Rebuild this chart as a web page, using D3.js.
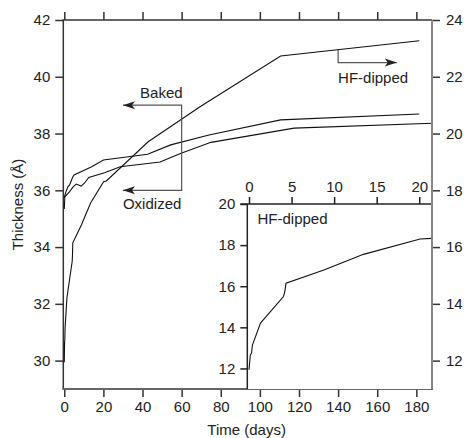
<!DOCTYPE html>
<html>
<head>
<meta charset="utf-8">
<script src="https://cdn.jsdelivr.net/npm/d3@7"></script>
<style>
	body { margin: 0; background: #fff; }
	svg { display: block; font-family: "Liberation Sans", Arial, sans-serif; }
	.tick text { font-size: 15px; fill: #222; }
	.lbl { font-size: 15px; fill: #222; }
</style>
</head>
<body>
<script>
	// Data (time in days, thickness in Å)
	let bakedDays = [0, 0.6, 1.9, 2.7, 4.4, 5, 14, 20, 42.6, 54.4, 74, 110.6, 181.5];
	let bakedValues = [35.73, 35.9, 36.13, 36.19, 36.48, 36.54, 36.83, 37.07, 37.27, 37.6, 37.95, 38.48, 38.69];

	let oxidizedDays = [0, 0.3, 2.7, 4.4, 6.1, 8.6, 10.3, 12.5, 20.6, 28.6, 49, 59.4, 75, 117.5, 188];
	let oxidizedValues = [35.34, 35.77, 35.95, 36.11, 36.22, 36.15, 36.25, 36.45, 36.62, 36.83, 37.0, 37.3, 37.69, 38.19, 38.36];

	// HF-dipped is read on the right axis (and the inset)
	let hfDays = [0, 0.15, 0.3, 0.4, 1.35, 4.05, 4.2, 4.35, 8.8, 13.45, 20.1, 21.5, 42.9, 69.6, 110.6, 181.5];
	let hfValues = [11.94, 12.65, 12.75, 13.14, 14.21, 15.5, 15.72, 16.15, 16.79, 17.55, 18.3, 18.33, 19.71, 20.95, 22.73, 23.27];

	let xTicks = [0, 20, 40, 60, 80, 100, 120, 140, 160, 180];
	let leftTicks = [30, 32, 34, 36, 38, 40, 42];
	let rightTicks = [12, 14, 16, 18, 20, 22, 24];
	let insetXTicks = [0, 5, 10, 15, 20];
	let insetYTicks = [12, 14, 16, 18, 20];

	let width = 466, height = 438;
	let L = 63.3, R = 432, T = 20, B = 389;
	let iL = 247.3, iT = 204;

	let svg = d3.select('body').append('svg')
		.attr('width', width)
		.attr('height', height);

	// Scales
	let x = d3.scaleLinear().domain([-0.5, 188]).range([L, R]);
	let yL = d3.scaleLinear().domain([29, 42]).range([B, T]);
	let yR = d3.scaleLinear().domain([11, 24]).range([B, T]);
	let xI = d3.scaleLinear().domain([-0.2, 21.5]).range([iL, R]);
	let yI = d3.scaleLinear().domain([11, 20]).range([B, iT]);

	function pairs(days, vals){
		return days.map((d, i) => [d, vals[i]]);
	}
	let lineL = d3.line().x(d => x(d[0])).y(d => yL(d[1]));
	let lineR = d3.line().x(d => x(d[0])).y(d => yR(d[1]));
	let lineI = d3.line().x(d => xI(d[0])).y(d => yI(d[1]));

	function styleAxis(g, color, w){
		g.select('.domain').remove();
		g.selectAll('.tick line').attr('stroke', color).attr('stroke-width', w);
	}

	// Main axes
	svg.append('g')
		.attr('transform', 'translate(0,' + B + ')')
		.call(d3.axisBottom(x).tickValues(xTicks).tickSize(8).tickPadding(4))
		.call(g => styleAxis(g, '#333', 1.5));
	svg.append('g')
		.attr('transform', 'translate(0,' + T + ')')
		.call(d3.axisTop(x).tickValues(xTicks).tickSize(8).tickFormat(''))
		.call(g => styleAxis(g, '#333', 1.5));
	svg.append('g')
		.attr('transform', 'translate(' + L + ',0)')
		.call(d3.axisLeft(yL).tickValues(leftTicks).tickSize(8).tickPadding(5))
		.call(g => styleAxis(g, '#333', 1.5));
	svg.append('g')
		.attr('transform', 'translate(' + R + ',0)')
		.call(d3.axisRight(yR).tickValues(rightTicks).tickSize(8).tickPadding(6))
		.call(g => styleAxis(g, '#333', 1.5));

	// Frame lines
	svg.append('line').attr('x1', L).attr('x2', L).attr('y1', T).attr('y2', B)
		.attr('stroke', '#333').attr('stroke-width', 1.5);
	svg.append('line').attr('x1', L - 1).attr('x2', R).attr('y1', T).attr('y2', T)
		.attr('stroke', '#333').attr('stroke-width', 1.5);
	svg.append('line').attr('x1', L - 1).attr('x2', R + 1).attr('y1', B).attr('y2', B)
		.attr('stroke', '#666').attr('stroke-width', 2);
	svg.append('line').attr('x1', R).attr('x2', R).attr('y1', T).attr('y2', B)
		.attr('stroke', '#888').attr('stroke-width', 2);

	// Main curves
	let curves = svg.append('g').attr('fill', 'none').attr('stroke', '#111').attr('stroke-width', 1.1);
	curves.append('path').attr('d', lineL(pairs(bakedDays, bakedValues)));
	curves.append('path').attr('d', lineL(pairs(oxidizedDays, oxidizedValues)));
	curves.append('path').attr('d', lineR(pairs(hfDays, hfValues)));

	// Annotation arrows
	function arrowHead(g, tipX, tipY, dir){
		g.append('path')
			.attr('d', 'M' + tipX + ',' + tipY +
				'L' + (tipX - dir * 12) + ',' + (tipY - 4) +
				'L' + (tipX - dir * 9) + ',' + tipY +
				'L' + (tipX - dir * 12) + ',' + (tipY + 4) + 'Z')
			.attr('fill', '#222');
	}
	let ann = svg.append('g');
	ann.append('path')
		.attr('d', 'M' + x(30) + ',' + yL(39) + 'H' + x(60) + 'V' + yL(36) + 'H' + x(30))
		.attr('fill', 'none').attr('stroke', '#555').attr('stroke-width', 1.2);
	arrowHead(ann, x(30), yL(39), -1);
	arrowHead(ann, x(30), yL(36), -1);
	ann.append('text').attr('class', 'lbl')
		.attr('x', x(60) + 1).attr('y', yL(39.25))
		.attr('text-anchor', 'end').text('Baked');
	ann.append('text').attr('class', 'lbl')
		.attr('x', x(30)).attr('y', yL(35.35))
		.text('Oxidized');

	// HF-dipped arrow starts on the curve at day 140
	let hfAt140 = hfValues[14] + (140 - hfDays[14]) / (hfDays[15] - hfDays[14]) * (hfValues[15] - hfValues[14]);
	ann.append('path')
		.attr('d', 'M' + x(140) + ',' + yR(hfAt140) + 'V' + yR(22.5) + 'H' + x(170))
		.attr('fill', 'none').attr('stroke', '#555').attr('stroke-width', 1.2);
	arrowHead(ann, x(170), yR(22.5), 1);
	ann.append('text').attr('class', 'lbl')
		.attr('x', x(140)).attr('y', yR(21.78))
		.text('HF-dipped');

	// Axis titles
	svg.append('text').attr('class', 'lbl')
		.attr('x', (L + R) / 2 - 1).attr('y', 435)
		.attr('text-anchor', 'middle').text('Time (days)');
	svg.append('text').attr('class', 'lbl')
		.attr('transform', 'translate(23,' + ((T + B) / 2) + ') rotate(-90)')
		.attr('text-anchor', 'middle').text('Thickness (Å)');

	// Inset
	let inset = svg.append('g');
	inset.append('rect')
		.attr('x', iL).attr('y', iT)
		.attr('width', R - iL).attr('height', B - iT)
		.attr('fill', '#fff');
	inset.append('g')
		.attr('transform', 'translate(0,' + iT + ')')
		.call(d3.axisTop(xI).tickValues(insetXTicks).tickSize(7).tickPadding(5))
		.call(g => styleAxis(g, '#222', 1.5));
	inset.append('g')
		.attr('transform', 'translate(' + iL + ',0)')
		.call(d3.axisLeft(yI).tickValues(insetYTicks).tickSize(7).tickPadding(5))
		.call(g => styleAxis(g, '#222', 1.5));
	inset.append('line').attr('x1', iL - 7).attr('x2', R).attr('y1', iT).attr('y2', iT)
		.attr('stroke', '#222').attr('stroke-width', 1.5);
	inset.append('line').attr('x1', iL).attr('x2', iL).attr('y1', iT).attr('y2', B)
		.attr('stroke', '#222').attr('stroke-width', 1.5);
	inset.append('path')
		.attr('d', lineI(pairs(hfDays, hfValues).filter(d => d[0] <= 21.5)))
		.attr('fill', 'none').attr('stroke', '#111').attr('stroke-width', 1.1);
	inset.append('text').attr('class', 'lbl')
		.attr('x', xI(1)).attr('y', yI(19.02))
		.text('HF-dipped');
	// Redraw right frame over inset background
	svg.append('line').attr('x1', R).attr('x2', R).attr('y1', T).attr('y2', B)
		.attr('stroke', '#888').attr('stroke-width', 2);
</script>
</body>
</html>
